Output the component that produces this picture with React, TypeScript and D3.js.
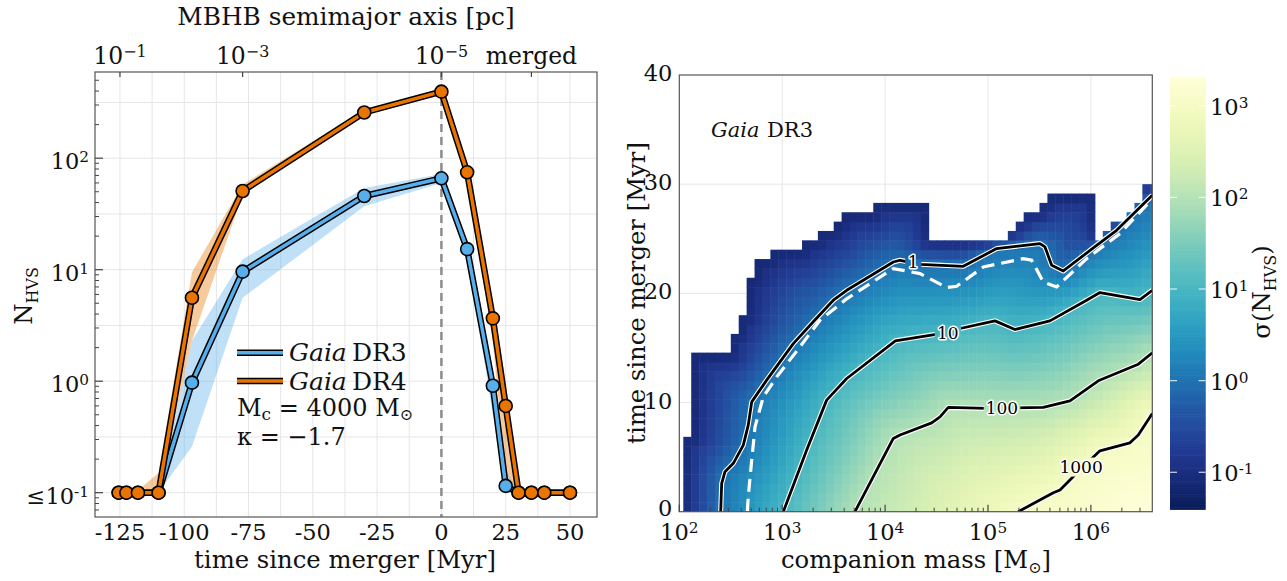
import React from "react";
import * as d3 from "d3";

const FONT = "'DejaVu Serif', serif";

// ---------------- Left panel data ----------------
const times = [-125.5, -122.5, -118, -110, -97, -77.3, -30, 0, 10, 20, 25, 30, 35, 40, 50];
const dr3 = [0.1, 0.1, 0.1, 0.1, 0.97, 9.6, 45.8, 66, 15.3, 0.91, 0.115, 0.1, 0.1, 0.1, 0.1];
const dr3Lo = [0.1, 0.1, 0.1, 0.1, 0.26, 5.6, 37, 60, 13.5, 0.5, 0.1, 0.1, 0.1, 0.1, 0.1];
const dr3Hi = [0.1, 0.1, 0.1, 0.1, 2.3, 12.4, 54, 72, 17, 1.3, 0.16, 0.1, 0.1, 0.1, 0.1];
const dr4 = [0.1, 0.1, 0.1, 0.1, 5.6, 50.8, 257, 395, 74.7, 3.66, 0.6, 0.1, 0.1, 0.1, 0.1];
const dr4Lo = [0.1, 0.1, 0.1, 0.1, 2.3, 47, 245, 380, 70, 2.2, 0.15, 0.1, 0.1, 0.1, 0.1];
const dr4Hi = [0.1, 0.1, 0.105, 0.15, 9.5, 58, 272, 410, 80, 5.0, 1.0, 0.1, 0.1, 0.1, 0.1];

const xTicksL = [-125, -100, -75, -50, -25, 0, 25, 50];
const xGridL = [-125, -112.5, -100, -87.5, -75, -62.5, -50, -37.5, -25, -12.5, 0, 12.5, 25, 37.5, 50];
const yTicksL = [0.1, 1, 10, 100];
const yTickExpL = ["-1", "0", "1", "2"];
const yGridExpL = [-1, -0.5, 0, 0.5, 1, 1.5, 2, 2.5];
const topTickTimes = [-125, -77.3, 0, 35];
const topTickExp = ["−1", "−3", "−5", ""];

// ---------------- Right panel data ----------------
// contour polylines: [log10(companion mass), time since merger]
const contour1 = [[2.402, 0], [2.412, 2.6], [2.444, 3.66], [2.525, 4.43], [2.622, 6.1], [2.67, 7.93], [2.704, 10.06], [2.849, 12.05], [3.108, 15.4], [3.302, 17.4], [3.497, 19.37], [3.627, 20.28], [4.08, 22.87], [4.145, 23.03], [4.34, 22.66], [4.76, 22.48], [5.084, 24.1], [5.505, 24.56], [5.554, 24.25], [5.619, 22.57], [5.732, 22.05], [6.056, 24.4], [6.25, 25.77], [6.597, 28.98]];
const contour10 = [[3.011, 0], [3.238, 5.65], [3.432, 10.22], [3.627, 12.2], [4.1, 15.65], [4.6, 16.41], [4.728, 16.78], [5.068, 17.48], [5.262, 16.69], [5.602, 17.48], [5.959, 19.37], [6.088, 20.07], [6.477, 19.43], [6.597, 20.28]];
const contour100 = [[3.707, 0], [4.08, 6.71], [4.145, 7.02], [4.453, 8.14], [4.534, 8.69], [4.614, 9.55], [4.987, 9.46], [5.537, 9.55], [5.797, 10.16], [6.072, 11.99], [6.461, 13.51], [6.597, 14.55]];
const contour1000 = [[5.294, 0], [5.635, 1.74], [5.7, 1.99], [5.91, 3.97], [6.088, 5.58], [6.38, 6.31], [6.461, 7.02], [6.597, 9.0]];
const dashed1 = [[2.661, 0], [2.67, 1.37], [2.704, 4.73], [2.736, 7.78], [2.816, 10.52], [2.947, 12.35], [3.173, 15.1], [3.367, 17.54], [3.53, 18.76], [3.627, 19.5], [4.08, 22.27], [4.339, 21.81], [4.6, 20.53], [4.696, 20.65], [4.955, 22.42], [5.343, 23.18], [5.425, 23.03], [5.537, 21.04], [5.667, 20.58], [5.959, 23.18], [6.283, 25.47], [6.597, 28.67]];
const contourLabels = ["1", "10", "100", "1000"];
const labelPos = [[4.274, 22.9], [4.61, 16.4], [5.136, 9.47], [5.905, 4.09]];
// number of filled time bins per mass column (top edge of the map)
const topRows = [8, 17, 17, 17, 17, 17, 19, 21, 25, 27, 27, 28, 28, 28, 28, 29, 29, 30, 30, 31, 32, 32, 32, 32, 33, 33, 33, 33, 33, 33, 33, 29, 29, 29, 29, 29, 29, 29, 29, 29, 29, 30, 31, 32, 32, 33, 34, 34, 34, 34, 34, 34, 29, 30, 31, 31, 32, 33, 35, 35];
const massBinStart = 2.039; // log10
const massBinWidth = 1 / 13; // dex
const timeBin = 30 / 35; // Myr
const xTicksRExp = [2, 3, 4, 5, 6];
const yTicksR = [0, 10, 20, 30, 40];
const cbarExp = [-1, 0, 1, 2, 3];

const BLUE = "#56aeea";
const ORANGE = "#ea7400";

const TICK_FS = 22.5;
const TITLE_FS = 24.3;
const LEG_FS = 25;

function Pow({ exp }: { exp: string }) {
  return (
    <>
      <tspan>10</tspan>
      <tspan dy="-0.45em" fontSize="0.68em">{exp}</tspan>
    </>
  );
}

function distToPolyline(px: number, py: number, pts: number[][]) {
  let best = Infinity;
  for (let i = 0; i < pts.length - 1; i++) {
    const [x1, y1] = pts[i];
    const [x2, y2] = pts[i + 1];
    const dx = x2 - x1, dy = y2 - y1;
    const L = dx * dx + dy * dy;
    let u = L > 0 ? ((px - x1) * dx + (py - y1) * dy) / L : 0;
    u = Math.max(0, Math.min(1, u));
    const d = Math.hypot(px - (x1 + u * dx), py - (y1 + u * dy));
    if (d < best) best = d;
  }
  return best;
}

function interpT(pts: number[][], lm: number) {
  if (lm >= pts[pts.length - 1][0]) return pts[pts.length - 1][1];
  for (let i = 0; i < pts.length - 1; i++) {
    if (lm >= pts[i][0] && lm <= pts[i + 1][0]) {
      const u = (lm - pts[i][0]) / (pts[i + 1][0] - pts[i][0]);
      return pts[i][1] + u * (pts[i + 1][1] - pts[i][1]);
    }
  }
  return pts[0][1];
}

export default function App() {
  const W = 1287, H = 581;
  // ---- left scales
  const xL = d3.scaleLinear().domain([-134.7, 60.5]).range([95, 597]);
  const yL = d3.scaleLog().domain([10 ** -1.218, 10 ** 2.773]).range([517, 72]);
  const L0 = 95, L1 = 597, T0 = 72, B0 = 517;
  const cl = (v: number) => Math.max(v, 0.1);

  const line = d3.line<number>().x((_, i) => xL(times[i])).y((v) => yL(cl(v)));
  const band = (lo: number[], hi: number[]) =>
    d3.area<number>().x((_, i) => xL(times[i])).y0((_, i) => yL(cl(lo[i]))).y1((_, i) => yL(cl(hi[i])))(times);

  const minorTicksL: number[] = [];
  for (let e = -2; e <= 2; e++) for (let m = 2; m <= 9; m++) {
    const v = m * 10 ** e;
    if (v > 10 ** -1.218 && v < 10 ** 2.773) minorTicksL.push(v);
  }

  // ---- right scales
  const R0 = 679.3, R1 = 1152.3, RT = 75, RB = 511.7;
  const xR = d3.scaleLog().domain([100, 10 ** 6.597]).range([R0, R1]);
  const yR = d3.scaleLinear().domain([0, 40]).range([RB, RT]);
  const cLo = -1.404, cHi = 3.317;
  const cbar = d3.scaleLog().domain([10 ** cLo, 10 ** cHi]).range([509.3, 76.7]);
  const colorOf = (lv: number) => d3.interpolateYlGnBu(1 - Math.max(0, Math.min(1, (lv - cLo) / (cHi - cLo))));

  const contours = [contour1, contour10, contour100, contour1000];
  const toPx = (c: number[][]) => c.map(([lm, t]) => [xR(10 ** lm), yR(t)]);
  const contoursPx = contours.map(toPx);

  const bnd: number[][] = [[xR(10 ** massBinStart), yR(0)]];
  topRows.forEach((r, i) => {
    const xa = xR(10 ** (massBinStart + i * massBinWidth));
    const xb = xR(10 ** (massBinStart + (i + 1) * massBinWidth));
    bnd.push([xa, yR(r * timeBin)], [xb, yR(r * timeBin)]);
  });

  const cells: { x: number; y: number; w: number; h: number; c: string }[] = [];
  topRows.forEach((r, i) => {
    const lmA = massBinStart + i * massBinWidth;
    const lmB = lmA + massBinWidth;
    const xa = xR(10 ** lmA), xb = xR(10 ** lmB);
    const lmc = (lmA + lmB) / 2;
    for (let j = 0; j < r; j++) {
      const ta = j * timeBin, tb = (j + 1) * timeBin;
      const tc = (ta + tb) / 2;
      const px = (xa + xb) / 2, py = yR(tc);
      let k = -1;
      contours.forEach((c, ci) => {
        if (lmc >= c[0][0] && tc < interpT(c, lmc)) k = ci;
      });
      let lv: number;
      if (k === -1) {
        const dB = distToPolyline(px, py, bnd);
        const d1 = distToPolyline(px, py, contoursPx[0]);
        lv = -1.2 + 1.2 * Math.pow(dB / (dB + d1), 0.8);
      } else if (k < 3) {
        const dk = distToPolyline(px, py, contoursPx[k]);
        const dn = distToPolyline(px, py, contoursPx[k + 1]);
        lv = k + dk / (dk + dn);
      } else {
        const dk = distToPolyline(px, py, contoursPx[3]);
        lv = Math.min(3.3, 3 + dk / 220);
      }
      cells.push({ x: xa, y: yR(tb), w: xb - xa + 0.5, h: yR(ta) - yR(tb) + 0.5, c: colorOf(lv) });
    }
  });

  const lineR = d3.line<number[]>().x((d) => d[0]).y((d) => d[1]);

  const minorTicksR: number[] = [];
  for (let e = 2; e <= 6; e++) for (let m = 2; m <= 9; m++) {
    const v = m * 10 ** e;
    if (v < 10 ** 6.597) minorTicksR.push(v);
  }

  const cbarSteps = d3.range(0, 200);
  const labelFs = 17;

  return (
    <svg width={W} height={H} style={{ position: "absolute", left: 0, top: 0, background: "#fff" }} fontFamily={FONT}>
      <defs>
        <clipPath id="clipL"><rect x={L0} y={T0} width={L1 - L0} height={B0 - T0} /></clipPath>
        <clipPath id="clipR"><rect x={R0} y={RT} width={R1 - R0} height={RB - RT} /></clipPath>
        <mask id="lblMask" maskUnits="userSpaceOnUse" x={0} y={0} width={W} height={H}>
          <rect x={0} y={0} width={W} height={H} fill="#fff" />
          {labelPos.map(([lm, t], i) => {
            const w = contourLabels[i].length * labelFs * 0.6 + 6;
            return <rect key={i} x={xR(10 ** lm) - w / 2} y={yR(t) - labelFs / 2 - 1} width={w} height={labelFs + 2} fill="#000" />;
          })}
        </mask>
      </defs>

      {/* ================= LEFT PANEL ================= */}
      <g>
        {xGridL.map((v) => (
          <line key={"gx" + v} x1={xL(v)} x2={xL(v)} y1={T0} y2={B0} stroke="#e6e6e6" strokeWidth={1} />
        ))}
        {yGridExpL.map((e) => (
          <line key={"gy" + e} x1={L0} x2={L1} y1={yL(10 ** e)} y2={yL(10 ** e)} stroke="#e6e6e6" strokeWidth={1} />
        ))}
        <line x1={xL(0)} x2={xL(0)} y1={T0} y2={B0} stroke="#8c8c8c" strokeWidth={2.5} strokeDasharray="8,5" />
        <g clipPath="url(#clipL)">
          <path d={band(dr3Lo, dr3Hi) || ""} fill={BLUE} fillOpacity={0.38} />
          <path d={band(dr4Lo, dr4Hi) || ""} fill={ORANGE} fillOpacity={0.38} />
          <path d={line(dr3) || ""} fill="none" stroke="#000" strokeWidth={6.5} strokeLinejoin="round" />
          <path d={line(dr3) || ""} fill="none" stroke={BLUE} strokeWidth={3.5} strokeLinejoin="round" />
          {dr3.map((v, i) => (
            <circle key={"b" + i} cx={xL(times[i])} cy={yL(cl(v))} r={6.5} fill={BLUE} stroke="#000" strokeWidth={1.6} />
          ))}
          <path d={line(dr4) || ""} fill="none" stroke="#000" strokeWidth={6.5} strokeLinejoin="round" />
          <path d={line(dr4) || ""} fill="none" stroke={ORANGE} strokeWidth={3.5} strokeLinejoin="round" />
          {dr4.map((v, i) => (
            <circle key={"o" + i} cx={xL(times[i])} cy={yL(cl(v))} r={6.5} fill={ORANGE} stroke="#000" strokeWidth={1.6} />
          ))}
        </g>
        <rect x={L0} y={T0} width={L1 - L0} height={B0 - T0} fill="none" stroke="#555" strokeWidth={1.2} />
        {yTicksL.map((v) => (
          <line key={"yt" + v} x1={L0} x2={L0 + 8} y1={yL(v)} y2={yL(v)} stroke="#444" strokeWidth={1.2} />
        ))}
        {minorTicksL.map((v) => (
          <line key={"ym" + v} x1={L0} x2={L0 + 4} y1={yL(v)} y2={yL(v)} stroke="#444" strokeWidth={1} />
        ))}
        {yTicksL.map((v, i) => (
          <text key={"ytl" + v} x={L0 - 6} y={yL(v) + 11} textAnchor="end" fontSize={TICK_FS} fill="#111">
            {i === 0 ? <tspan>≤</tspan> : null}
            <Pow exp={yTickExpL[i]} />
          </text>
        ))}
        {xTicksL.map((v) => (
          <text key={"xt" + v} x={xL(v)} y={540} textAnchor="middle" fontSize={TICK_FS} fill="#111">{String(v)}</text>
        ))}
        <text x={345} y={568} textAnchor="middle" fontSize={TITLE_FS} fill="#111">time since merger [Myr]</text>
        {topTickTimes.map((v) => (
          <line key={"tt" + v} x1={xL(v)} x2={xL(v)} y1={T0} y2={T0 + 5} stroke="#444" strokeWidth={1.2} />
        ))}
        {topTickTimes.map((v, i) => (
          <text key={"ttl" + v} x={xL(v)} y={64} textAnchor="middle" fontSize={23.5} fill="#111">
            {topTickExp[i] === "" ? "merged" : <Pow exp={topTickExp[i]} />}
          </text>
        ))}
        <text x={346} y={25} textAnchor="middle" fontSize={24.8} fill="#111">MBHB semimajor axis [pc]</text>
        <text transform={`translate(32,296) rotate(-90)`} textAnchor="middle" fontSize={TITLE_FS} fill="#111">
          <tspan>N</tspan>
          <tspan dy={6} fontSize={16}>HVS</tspan>
        </text>
        {/* legend */}
        <line x1={237} x2={283} y1={352.7} y2={352.7} stroke="#000" strokeWidth={6.5} />
        <line x1={237} x2={283} y1={352.7} y2={352.7} stroke={BLUE} strokeWidth={3.5} />
        <line x1={237} x2={283} y1={381} y2={381} stroke="#000" strokeWidth={6.5} />
        <line x1={237} x2={283} y1={381} y2={381} stroke={ORANGE} strokeWidth={3.5} />
        <text y={361} fontSize={LEG_FS} fill="#111">
          <tspan x={289} fontStyle="italic">Gaia</tspan>
          <tspan x={352}>DR3</tspan>
        </text>
        <text y={389.5} fontSize={LEG_FS} fill="#111">
          <tspan x={289} fontStyle="italic">Gaia</tspan>
          <tspan x={352}>DR4</tspan>
        </text>
        <text x={237} y={416} fontSize={24} fill="#111">
          <tspan>M</tspan>
          <tspan dy={4} fontSize={17}>c</tspan>
          <tspan dy={-4}>{"\u00a0=\u00a04000\u00a0M"}</tspan>
          <tspan dy={4} fontSize={16}>⊙</tspan>
        </text>
        <text x={237} y={445} fontSize={24} fill="#111">{"κ\u00a0=\u00a0−1.7"}</text>
      </g>

      {/* ================= RIGHT PANEL ================= */}
      <g>
        {[3, 4, 5, 6].map((e) => (
          <line key={"rgx" + e} x1={xR(10 ** e)} x2={xR(10 ** e)} y1={RT} y2={RB} stroke="#e6e6e6" strokeWidth={1} />
        ))}
        {[10, 20, 30].map((t) => (
          <line key={"rgy" + t} x1={R0} x2={R1} y1={yR(t)} y2={yR(t)} stroke="#e6e6e6" strokeWidth={1} />
        ))}
        <g clipPath="url(#clipR)">
          {cells.map((c, i) => (
            <rect key={i} x={c.x} y={c.y} width={c.w} height={c.h} fill={c.c} />
          ))}
          <path d={lineR(toPx(dashed1)) || ""} fill="none" stroke="#fff" strokeWidth={3.2} strokeDasharray="13,7" />
          <g mask="url(#lblMask)">
            {contoursPx.map((c, i) => (
              <g key={"c" + i}>
                <path d={lineR(c) || ""} fill="none" stroke="#fff" strokeWidth={5} strokeLinejoin="round" />
                <path d={lineR(c) || ""} fill="none" stroke="#000" strokeWidth={2.8} strokeLinejoin="round" />
              </g>
            ))}
          </g>
        </g>
        {labelPos.map(([lm, t], i) => (
          <text key={"cl" + i} x={xR(10 ** lm)} y={yR(t) + 6} textAnchor="middle" fontSize={labelFs}
            fill="#000" stroke="#fff" strokeWidth={3} paintOrder="stroke" strokeLinejoin="round">
            {contourLabels[i]}
          </text>
        ))}
        <rect x={R0} y={RT} width={R1 - R0} height={RB - RT} fill="none" stroke="#555" strokeWidth={1.2} />
        {xTicksRExp.map((e) => (
          <line key={"rxt" + e} x1={xR(10 ** e)} x2={xR(10 ** e)} y1={RB} y2={RB - 7} stroke="#444" strokeWidth={1.2} />
        ))}
        {minorTicksR.map((v) => (
          <line key={"rxm" + v} x1={xR(v)} x2={xR(v)} y1={RB} y2={RB - 4} stroke="#444" strokeWidth={1} />
        ))}
        {xTicksRExp.map((e) => (
          <text key={"rxl" + e} x={xR(10 ** e)} y={540} textAnchor="middle" fontSize={TICK_FS} fill="#111">
            <Pow exp={String(e)} />
          </text>
        ))}
        {yTicksR.map((t) => (
          <text key={"ryl" + t} x={R0 - 7} y={yR(t) + (t === 0 ? 4 : 6)} textAnchor="end" fontSize={TICK_FS} fill="#111">{String(t)}</text>
        ))}
        <text x={916} y={568} textAnchor="middle" fontSize={TITLE_FS} fill="#111">
          <tspan>companion mass [M</tspan>
          <tspan dy={5} fontSize={16}>⊙</tspan>
          <tspan dy={-5}>]</tspan>
        </text>
        <text transform={`translate(645,293) rotate(-90)`} textAnchor="middle" fontSize={TITLE_FS} fill="#111">time since merger [Myr]</text>
        <text y={137} fontSize={21} fill="#111">
          <tspan x={711} fontStyle="italic">Gaia</tspan>
          <tspan x={767}>DR3</tspan>
        </text>

        {cbarSteps.map((s) => {
          const y0 = 509.3 - (s / 200) * (509.3 - 76.7);
          const y1 = 509.3 - ((s + 1) / 200) * (509.3 - 76.7);
          const lv = cLo + ((s + 0.5) / 200) * (cHi - cLo);
          return <rect key={"cb" + s} x={1170} y={y1} width={35.7} height={y0 - y1 + 0.6} fill={colorOf(lv)} />;
        })}
        {cbarExp.map((e) => (
          <g key={"cbt" + e}>
            <line x1={1170} x2={1177} y1={cbar(10 ** e)} y2={cbar(10 ** e)} stroke="#fff" strokeOpacity={0.8} strokeWidth={1.2} />
            <line x1={1198.7} x2={1205.7} y1={cbar(10 ** e)} y2={cbar(10 ** e)} stroke="#fff" strokeOpacity={0.8} strokeWidth={1.2} />
            <text x={1210} y={cbar(10 ** e) + 9} fontSize={TICK_FS} fill="#111"><Pow exp={e < 0 ? "-1" : String(e)} /></text>
          </g>
        ))}
        <text transform={`translate(1270,292) rotate(-90)`} textAnchor="middle" fontSize={TITLE_FS} fill="#111">
          <tspan>σ(N</tspan>
          <tspan dy={6} fontSize={16}>HVS</tspan>
          <tspan dy={-6}>)</tspan>
        </text>
      </g>
    </svg>
  );
}
